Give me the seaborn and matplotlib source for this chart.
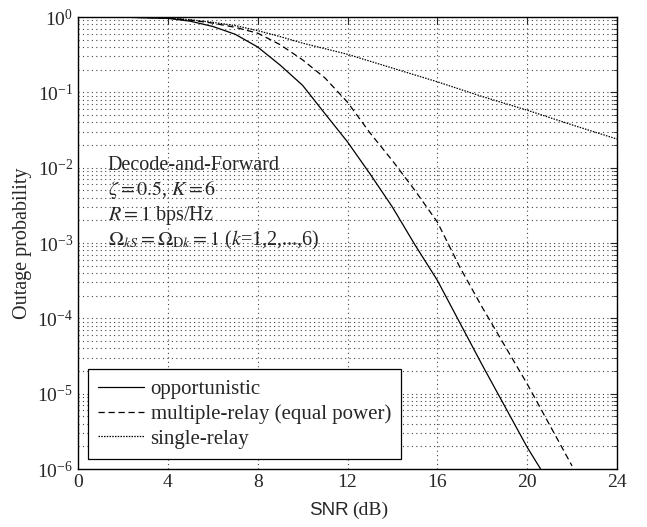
import numpy as np
import pandas as pd
import matplotlib
matplotlib.use("Agg")
import matplotlib.pyplot as plt
import seaborn as sns
from matplotlib.ticker import FixedLocator, NullFormatter, LogFormatterSciNotation

# values
snr_opp = [0, 2, 4, 5, 6, 7, 8, 9, 10, 11, 12, 13, 14, 15, 16, 18, 20, 20.6]
p_opp = [1.0, 0.995, 0.96, 0.88, 0.75, 0.59, 0.40, 0.23, 0.124, 0.052, 0.022,
         8.3e-3, 3.0e-3, 9.5e-4, 3.2e-4, 2.4e-5, 1.95e-6, 1.0e-6]

snr_multi = [0, 2, 4, 5, 6, 7, 8, 9, 10, 11, 12, 13, 14, 15, 16, 17, 18, 20, 22]
p_multi = [1.0, 0.997, 0.97, 0.91, 0.83, 0.73, 0.61, 0.43, 0.27, 0.155, 0.074,
           0.029, 0.0124, 5.0e-3, 1.9e-3, 4.8e-4, 1.4e-4, 1.35e-5, 1.1e-6]

snr_single = [0, 2, 4, 5, 6, 7, 8, 9, 10, 12, 14, 16, 18, 20, 22, 24]
p_single = [1.0, 0.997, 0.97, 0.92, 0.85, 0.77, 0.66, 0.55, 0.45, 0.32, 0.21,
            0.138, 0.088, 0.058, 0.037, 0.024]

labels = ["opportunistic", "multiple-relay (equal power)", "single-relay"]
x_ticks = [0, 4, 8, 12, 16, 20, 24]
y_ticks = [1e-6, 1e-5, 1e-4, 1e-3, 1e-2, 1e-1, 1]

sns.set_style("white")
plt.rcParams['font.family'] = ['Liberation Serif', 'DejaVu Serif']
plt.rcParams['mathtext.fontset'] = 'stix'

df = pd.concat([
    pd.DataFrame({"snr": snr_opp, "p": p_opp, "scheme": labels[0]}),
    pd.DataFrame({"snr": snr_multi, "p": p_multi, "scheme": labels[1]}),
    pd.DataFrame({"snr": snr_single, "p": p_single, "scheme": labels[2]}),
])

fig = plt.figure(figsize=(6.47, 5.27), dpi=100)
ax = fig.add_axes([0.1206, 0.110, 0.833, 0.8577])

styles = {labels[0]: "-", labels[1]: (0, (5, 3)), labels[2]: (0, (1.2, 1))}
for name in labels:
    sub = df[df.scheme == name]
    sns.lineplot(data=sub, x="snr", y="p", ax=ax, color="black", lw=0.9,
                 linestyle=styles[name], label=name, sort=False)

ax.set_yscale("log")
ax.set_xlim(0, 24)
ax.set_ylim(1e-6, 1)
ax.xaxis.set_major_locator(FixedLocator(x_ticks))
ax.yaxis.set_major_locator(FixedLocator(y_ticks))
ax.yaxis.set_major_formatter(LogFormatterSciNotation())
minor = [m * d for d in y_ticks[:-1] for m in range(2, 10)]
ax.yaxis.set_minor_locator(FixedLocator(minor))
ax.yaxis.set_minor_formatter(NullFormatter())

ax.grid(True, which="major", axis="both", color="#444444", linestyle=(0, (1, 3)), lw=0.8)
ax.grid(True, which="minor", axis="y", color="#444444", linestyle=(0, (1, 3)), lw=0.8)

ax.tick_params(which="both", direction="in", top=True, right=True, labelsize=14)
ax.tick_params(which="minor", labelleft=False, length=3)
ax.tick_params(which="major", length=5)
for s in ax.spines.values():
    s.set_linewidth(1.0)
    s.set_color("black")

ax.set_xlabel("")
ax.xaxis.label.set_visible(False)
ax.set_ylabel("Outage probability", fontsize=14.5)
ax.text(0.503, -0.091, "SNR", transform=ax.transAxes, ha="right", va="center",
        fontsize=13.5, family="Liberation Sans")
ax.text(0.508, -0.091, "(dB)", transform=ax.transAxes, ha="left", va="center", fontsize=14)

notes = ["Decode-and-Forward",
         r"$\zeta = 0.5$, $K = 6$",
         r"$R = 1$ bps/Hz",
         r"$\Omega_{kS} = \Omega_{\mathrm{D}k} = 1$ ($k$=1,2,...,6)"]
for i, t in enumerate(notes):
    ax.text(0.055, 0.672 - i * 0.0553, t, transform=ax.transAxes, fontsize=14.5,
            ha="left", va="center")

leg = ax.legend(loc="lower left", bbox_to_anchor=(0.0186, 0.022), borderaxespad=0,
                fontsize=15, fancybox=False, edgecolor="black", framealpha=1,
                handlelength=2.2, handletextpad=0.3, borderpad=0.5, labelspacing=0.25)
leg.get_frame().set_linewidth(0.9)

fig.savefig("out.png", dpi=100)
